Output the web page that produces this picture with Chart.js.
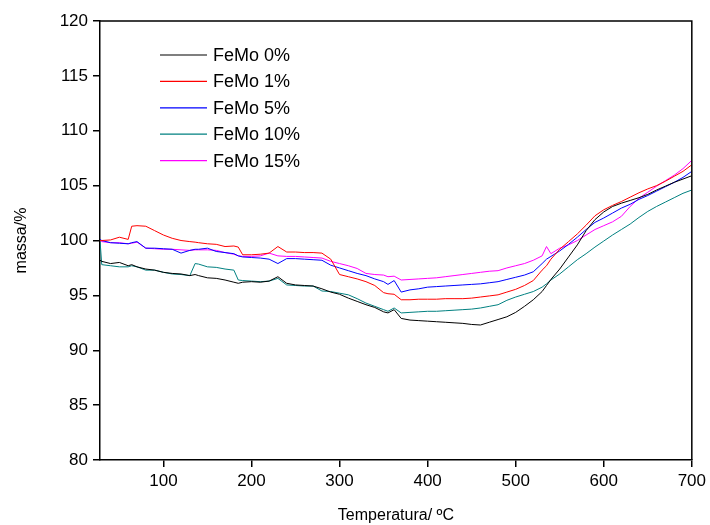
<!DOCTYPE html>
<html>
<head>
<meta charset="utf-8">
<script src="https://cdn.jsdelivr.net/npm/chart.js@4/dist/chart.umd.min.js"></script>
<style>
  html, body { margin: 0; padding: 0; background: #fff; }
</style>
</head>
<body>
<canvas id="tgChart" width="710" height="525"></canvas>
<script>
// Temperature (ºC) and mass (%)
const temps = [
    28, 30, 40, 50, 60, 64, 70, 80, 90, 100,
    110, 120, 130, 136, 140, 150, 160, 170, 180, 185,
    190, 200, 210, 220, 230, 240, 250, 260, 270, 280,
    290, 300, 310, 320, 330, 340, 350, 355, 362, 370,
    380, 390, 400, 410, 420, 430, 440, 450, 460, 470,
    480, 490, 500, 510, 520, 530, 535, 540, 550, 560,
    570, 580, 590, 600, 610, 620, 630, 640, 650, 660,
    670, 680, 690, 700
];

const femo0 = [
    98.2, 98.1, 97.9, 98.0, 97.7, 97.8, 97.6, 97.4, 97.3, 97.1,
    97.0, 96.95, 96.8, 96.9, 96.8, 96.6, 96.55, 96.4, 96.2, 96.1,
    96.2, 96.25, 96.2, 96.3, 96.7, 96.1, 95.95, 95.9, 95.85, 95.6,
    95.3, 95.1, 94.75, 94.45, 94.15, 93.9, 93.5, 93.4, 93.7, 92.9,
    92.75, 92.7, 92.65, 92.6, 92.55, 92.5, 92.45, 92.35, 92.3, 92.55,
    92.8, 93.05, 93.45, 94.0, 94.6, 95.35, 95.9, 96.45, 97.4, 98.5,
    99.6, 100.9, 101.9, 102.6, 103.1, 103.4, 103.65, 103.9, 104.2, 104.6,
    104.95, 105.3, 105.6, 105.9
];

const femo1 = [
    100.0, 100.0, 100.05, 100.3, 100.1, 101.3, 101.35, 101.3, 100.9, 100.5,
    100.2, 100.0, 99.9, 99.85, 99.8, 99.7, 99.65, 99.45, 99.5, 99.4,
    98.7, 98.7, 98.75, 98.85, 99.45, 98.95, 98.95, 98.9, 98.9, 98.85,
    98.3, 96.9, 96.7, 96.5, 96.25, 95.9, 95.25, 95.15, 95.1, 94.6,
    94.6, 94.65, 94.65, 94.65, 94.7, 94.7, 94.7, 94.75, 94.85, 94.95,
    95.05, 95.3, 95.55, 95.9, 96.35, 97.3, 97.7, 98.3, 99.2, 99.9,
    100.6, 101.4, 102.25, 102.8, 103.2, 103.55, 103.95, 104.35, 104.7, 105.0,
    105.4, 105.85, 106.3, 106.9
];

const femo5 = [
    100.1, 100.0, 99.8, 99.75, 99.7, 99.8, 99.9, 99.3, 99.3, 99.25,
    99.2, 98.85, 99.1, 99.2, 99.2, 99.3, 99.0, 98.9, 98.8, 98.6,
    98.5, 98.45, 98.4, 98.3, 97.9, 98.35, 98.35, 98.3, 98.25, 98.2,
    97.75, 97.5, 97.25, 97.0, 96.8, 96.5, 96.25, 96.0, 96.35, 95.3,
    95.5, 95.6, 95.75, 95.8, 95.85, 95.9, 95.95, 96.0, 96.05, 96.15,
    96.25, 96.45, 96.65, 96.85, 97.15, 97.9, 98.3, 98.55, 99.05, 99.65,
    100.3, 101.0, 101.65, 102.05, 102.5, 102.95, 103.3, 103.75, 104.1, 104.5,
    104.9, 105.3, 105.75, 106.3
];

const femo10 = [
    100.0, 97.8, 97.7, 97.6, 97.6, 97.7, 97.6, 97.3, 97.3, 97.1,
    96.95, 96.9, 96.8, 97.9, 97.85, 97.6, 97.55, 97.4, 97.3, 96.4,
    96.35, 96.3, 96.25, 96.3, 96.55, 95.95, 95.9, 95.85, 95.85, 95.4,
    95.35, 95.2, 95.05, 94.7, 94.3, 94.0, 93.7, 93.55, 93.85, 93.4,
    93.45, 93.5, 93.55, 93.55, 93.6, 93.65, 93.7, 93.75, 93.85, 94.0,
    94.15, 94.55, 94.85, 95.1, 95.35, 95.75, 96.05, 96.4, 96.95, 97.6,
    98.25, 98.8, 99.4, 99.95, 100.5, 101.0, 101.5, 102.1, 102.65, 103.1,
    103.5, 103.9, 104.3, 104.6
];

const femo15 = [
    100.0, 99.9, 99.8, 99.8, 99.7, 99.75, 99.85, 99.3, 99.25, 99.2,
    99.2, 99.15, 99.1, 99.15, 99.15, 99.15, 99.1, 98.9, 98.75, 98.6,
    98.55, 98.55, 98.6, 98.85, 98.6, 98.55, 98.55, 98.5, 98.45, 98.4,
    98.1, 97.9, 97.7, 97.45, 97.0, 96.9, 96.85, 96.7, 96.75, 96.4,
    96.45, 96.5, 96.55, 96.6, 96.7, 96.8, 96.9, 97.0, 97.1, 97.2,
    97.25, 97.5, 97.7, 97.9, 98.2, 98.6, 99.45, 98.8, 99.3, 99.6,
    100.0, 100.5, 101.0, 101.35, 101.7, 102.2, 103.1, 103.85, 104.4, 104.95,
    105.45, 105.95, 106.55, 107.3
];

const seriesLabels = ['FeMo 0%', 'FeMo 1%', 'FeMo 5%', 'FeMo 10%', 'FeMo 15%'];
const seriesColors = ['#000000', '#ff0000', '#0000ff', '#008080', '#ff00ff'];
const seriesValues = [femo0, femo1, femo5, femo10, femo15];

const FONT = 'Liberation Sans, Arial, sans-serif';

// top + right frame lines
const frameBox = {
    id: 'frameBox',
    afterDraw(chart) {
        const { ctx, chartArea: a } = chart;
        ctx.save();
        ctx.strokeStyle = '#000';
        ctx.lineWidth = 1.5;
        ctx.beginPath();
        ctx.moveTo(a.left, a.top);
        ctx.lineTo(a.right, a.top);
        ctx.lineTo(a.right, a.bottom);
        ctx.stroke();
        ctx.restore();
    }
};

// legend inside the plot, upper left
const innerLegend = {
    id: 'innerLegend',
    afterDraw(chart) {
        const ctx = chart.ctx;
        ctx.save();
        ctx.font = '18px ' + FONT;
        ctx.textBaseline = 'middle';
        chart.data.datasets.forEach((ds, i) => {
            const y = 55 + i * 26.4;
            ctx.strokeStyle = ds.borderColor;
            ctx.lineWidth = 1.2;
            ctx.beginPath();
            ctx.moveTo(160, y);
            ctx.lineTo(207, y);
            ctx.stroke();
            ctx.fillStyle = '#000';
            ctx.fillText(ds.label, 213, y + 1);
        });
        ctx.restore();
    }
};

const ctx = document.getElementById('tgChart').getContext('2d');

new Chart(ctx, {
    type: 'line',
    data: {
        datasets: seriesLabels.map((label, i) => ({
            label: label,
            data: temps.map((t, j) => ({ x: t, y: seriesValues[i][j] })),
            borderColor: seriesColors[i],
            borderWidth: 1,
            pointRadius: 0,
            tension: 0,
            fill: false
        }))
    },
    options: {
        responsive: false,
        animation: false,
        layout: {
            padding: { left: 0, right: 14, top: 21, bottom: 0 }
        },
        plugins: {
            legend: { display: false },
            tooltip: { enabled: false }
        },
        scales: {
            x: {
                type: 'linear',
                min: 28,
                max: 700,
                afterFit: s => { s.height = 65; },
                afterBuildTicks: s => {
                    s.ticks = s.ticks.filter(t => t.value % 100 === 0);
                },
                ticks: {
                    stepSize: 100,
                    color: '#000',
                    font: { family: FONT, size: 17 },
                    padding: 4,
                    maxRotation: 0
                },
                grid: {
                    drawOnChartArea: false,
                    drawTicks: true,
                    tickLength: 7,
                    color: '#000',
                    lineWidth: 1.5
                },
                border: { color: '#000', width: 1.5 },
                title: {
                    display: true,
                    text: 'Temperatura/ ºC',
                    color: '#000',
                    font: { family: FONT, size: 16 },
                    padding: { top: 0, bottom: 0 }
                }
            },
            y: {
                min: 80,
                max: 120,
                afterFit: s => { s.width = 100; },
                ticks: {
                    stepSize: 5,
                    color: '#000',
                    font: { family: FONT, size: 17 },
                    padding: 5
                },
                grid: {
                    drawOnChartArea: false,
                    drawTicks: true,
                    tickLength: 7,
                    color: '#000',
                    lineWidth: 1.5
                },
                border: { color: '#000', width: 1.5 },
                title: {
                    display: true,
                    text: 'massa/%',
                    color: '#000',
                    font: { family: FONT, size: 16 },
                    padding: { top: 12, bottom: 0 }
                }
            }
        }
    },
    plugins: [frameBox, innerLegend]
});
</script>
</body>
</html>
